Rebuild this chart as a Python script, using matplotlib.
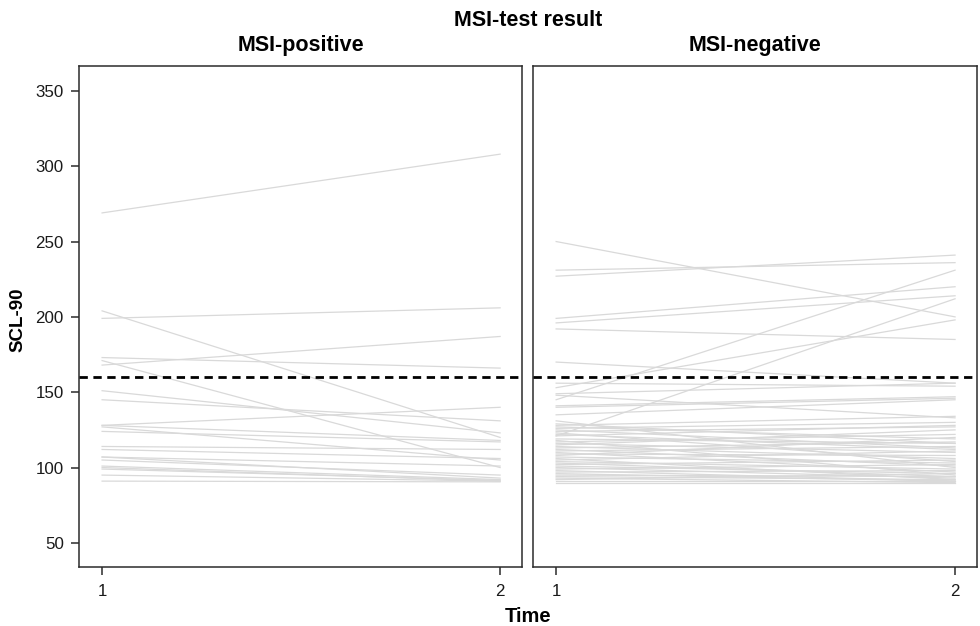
import matplotlib
matplotlib.use("Agg")
from matplotlib import pyplot as plt

plt.rcParams['font.family'] = ['Liberation Sans', 'DejaVu Sans']

# SCL-90 score at time 1 and time 2, one entry per patient
pos_t1 = [269, 204, 199, 173, 168, 171, 151, 145, 128, 128, 127, 124, 114, 112,
          107, 107, 105, 101, 100, 99, 95, 91]
pos_t2 = [308, 120, 206, 166, 187, 100, 123, 131, 140, 118, 105, 117, 112, 106,
          101, 93, 95, 92, 91, 91.5, 91, 90.5]

neg_t1 = [250, 231, 227, 199, 196, 192, 170, 145, 121, 153,
          156, 149, 148, 140, 141, 135, 131, 129, 128, 127, 126, 125, 124, 123,
          122, 121, 119, 118, 117, 116, 115, 114, 113, 112, 111, 110, 109, 108,
          107, 106, 105, 104, 103, 102, 101, 100, 99, 98, 97, 96, 95, 94, 93,
          92, 91, 90]
neg_t2 = [200, 236, 241, 220, 214, 185, 156, 231, 212, 198,
          154, 156, 133, 146, 147, 145, 100, 116, 134, 119, 130, 113, 127, 104,
          112, 128, 116, 95, 122, 110, 125, 106, 117, 101, 114, 97, 108, 120,
          103, 92, 111, 99, 94, 105, 96, 93, 102, 91, 98, 91, 94, 92, 90,
          96, 91, 90]

times = [1, 2]
cutoff = 160
panels = [("MSI-positive", pos_t1, pos_t2), ("MSI-negative", neg_t1, neg_t2)]

fig = plt.figure(figsize=(9.8, 6.26), dpi=100)
ax_pos = [[79 / 980, 1 - 567 / 626, 443 / 980, 501 / 626],
          [533 / 980, 1 - 567 / 626, 444 / 980, 501 / 626]]
title_x = [301, 755]

frame_color = "#2b2b2b"
for i, (title, t1, t2) in enumerate(panels):
    ax = fig.add_axes(ax_pos[i])
    for a, b in zip(t1, t2):
        ax.plot(times, [a, b], color="#d9d9d9", linewidth=0.9, zorder=1)
    ax.axhline(cutoff, color="black", linewidth=2, linestyle=(0, (3, 2)), zorder=3)
    ax.set_xlim(0.942, 2.055)
    ax.set_ylim(34, 366.5)
    ax.set_xticks(times)
    ax.set_xticklabels([str(t) for t in times])
    fig.text(title_x[i] / 980, 1 - 45 / 626, title, ha="center", va="center",
             fontsize=15.5, fontweight="bold")
    for sp in ax.spines.values():
        sp.set_color(frame_color)
        sp.set_linewidth(1.1)
    ax.tick_params(axis="both", direction="out", length=6, width=1.1,
                   color=frame_color, labelsize=12.2, labelcolor="#1a1a1a")
    ax.tick_params(axis="x", pad=6)
    ax.tick_params(axis="y", pad=5)
    if i == 0:
        ax.set_yticks([50, 100, 150, 200, 250, 300, 350])
    else:
        ax.set_yticks([])

fig.text(528 / 980, 1 - 20 / 626, "MSI-test result", ha="center", va="center",
         fontsize=15.5, fontweight="bold")
fig.text(18 / 980, 1 - 320 / 626, "SCL-90", ha="center", va="center",
         rotation=90, fontsize=13.5, fontweight="bold")
fig.text(528 / 980, 1 - 617 / 626, "Time", ha="center", va="center",
         fontsize=14.5, fontweight="bold")

fig.savefig("out.png", dpi=100)
